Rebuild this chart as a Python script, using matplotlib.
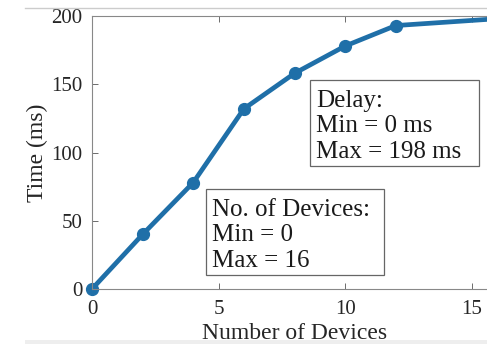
import matplotlib
matplotlib.use("Agg")
import matplotlib.pyplot as plt
from matplotlib.patches import Rectangle
from matplotlib.lines import Line2D

devices = [0, 2, 4, 6, 8, 10, 12, 16]
delay_ms = [0, 40, 78, 132, 158, 178, 193, 198]
xticks = [0, 5, 10, 15]
yticks = [0, 50, 100, 150, 200]

W, H = 487, 344
plt.rcParams['font.family'] = ['Liberation Serif', 'DejaVu Serif']

fig = plt.figure(figsize=(W / 100, H / 100), dpi=100)

def fx(px):
    return px / W

def fy(py):
    return 1 - py / H

# axes: x=0 at px 92, x=16 at ~497 (cut off by the image edge)
ax = fig.add_axes([fx(92), fy(289), fx(497) - fx(92), fy(16) - fy(289)])
ax.plot(devices, delay_ms, color='#1f6fa8', lw=3.4, marker='o', ms=8.5, clip_on=False)
ax.set_xlim(0, 16)
ax.set_ylim(0, 200)
ax.set_xticks(xticks)
ax.set_yticks(yticks)
ax.tick_params(direction='in', top=True, right=True, length=4, width=0.6,
               labelsize=15, colors='#555555', labelcolor='#262626')
ax.tick_params(axis='y', pad=7)
ax.tick_params(axis='x', pad=8)
for s in ax.spines.values():
    s.set_color('#888888')
    s.set_linewidth(0.8)
ax.set_xlabel('Number of Devices', fontsize=17, color='#262626', labelpad=3)
ax.set_ylabel('Time (ms)', fontsize=17, color='#262626', labelpad=2)

# annotation boxes
fig.add_artist(Rectangle((fx(310), fy(166)), fx(479) - fx(310), fy(80) - fy(166),
                         transform=fig.transFigure, fill=True, facecolor='white',
                         edgecolor='#666666', lw=0.9))
fig.text(fx(316), fy(90), 'Delay:\nMin = 0 ms\nMax = 198 ms', fontsize=18,
         va='top', ha='left', color='#1a1a1a', linespacing=1.2)

fig.add_artist(Rectangle((fx(206), fy(275)), fx(384) - fx(206), fy(189) - fy(275),
                         transform=fig.transFigure, fill=True, facecolor='white',
                         edgecolor='#666666', lw=0.9))
fig.text(fx(212), fy(199), 'No. of Devices:\nMin = 0\nMax = 16', fontsize=18,
         va='top', ha='left', color='#1a1a1a', linespacing=1.2)

# thin frame lines of the screenshot
fig.add_artist(Line2D([fx(25), 1], [fy(8), fy(8)], color='#cccccc', lw=1))
fig.add_artist(Rectangle((fx(25), 0), 1, fy(340), transform=fig.transFigure,
                         facecolor='#eeeeee', edgecolor='none'))

fig.savefig('out.png', dpi=100)
